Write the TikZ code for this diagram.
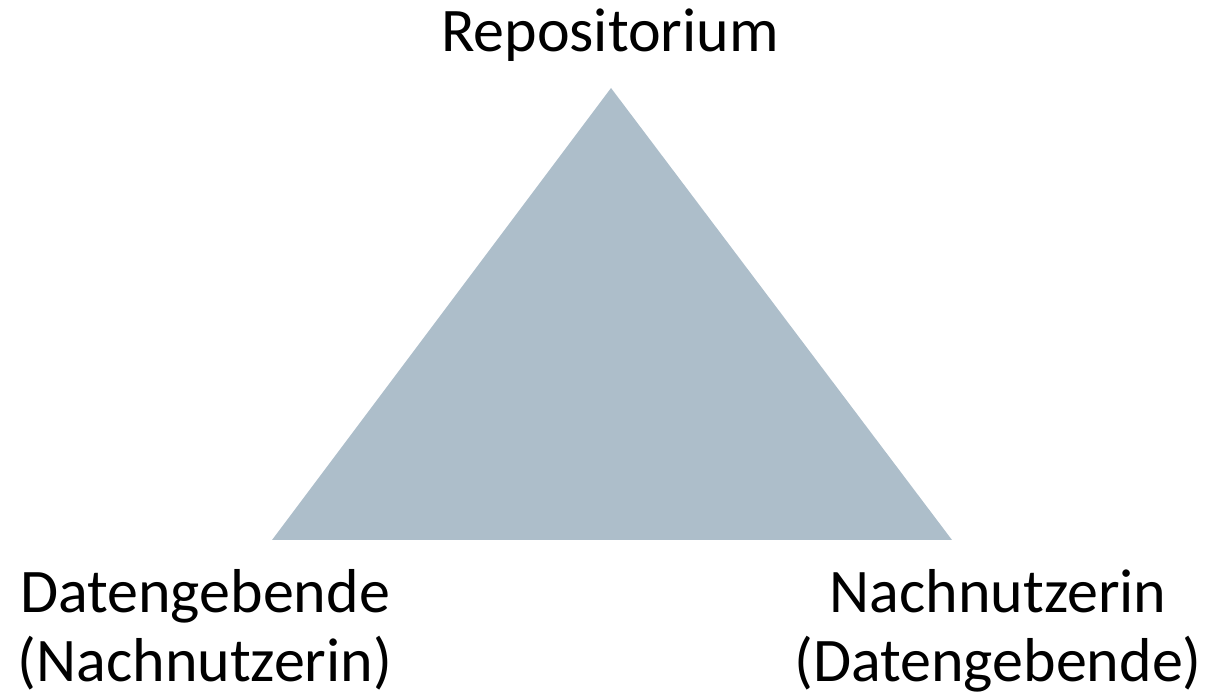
\documentclass[tikz,border=0pt]{standalone}
\usepackage{fontspec}
\setmainfont{Carlito}
\usepackage{tikz}
\usetikzlibrary{positioning}
\definecolor{trigray}{RGB}{173,190,202}
\tikzstyle{role_label}=[inner sep=0pt, align=center, font=\fontsize{31}{34.5}\selectfont]
\tikzstyle{role_area}=[fill=trigray, draw=none]

\begin{document}
\begin{tikzpicture}[x=0.5pt, y=-0.5pt]
        \useasboundingbox (0, 0) rectangle (1216, 699);
        \coordinate (a) at (611, 88);
        \coordinate (b) at (272, 540);
        \coordinate (c) at (952, 540);
        \fill[style={role_area}] (a) -- (b) -- (c) -- cycle;
        \node [style={role_label}, anchor=base] (0) at (610, 52) {Repositorium};
        \node [style={role_label}, anchor=base] (1) at (205, 682) {Datengebende\\(Nachnutzerin)};
        \node [style={role_label}, anchor=base] (2) at (998, 682) {Nachnutzerin\\(Datengebende)};
    \end{tikzpicture}
\end{document}
